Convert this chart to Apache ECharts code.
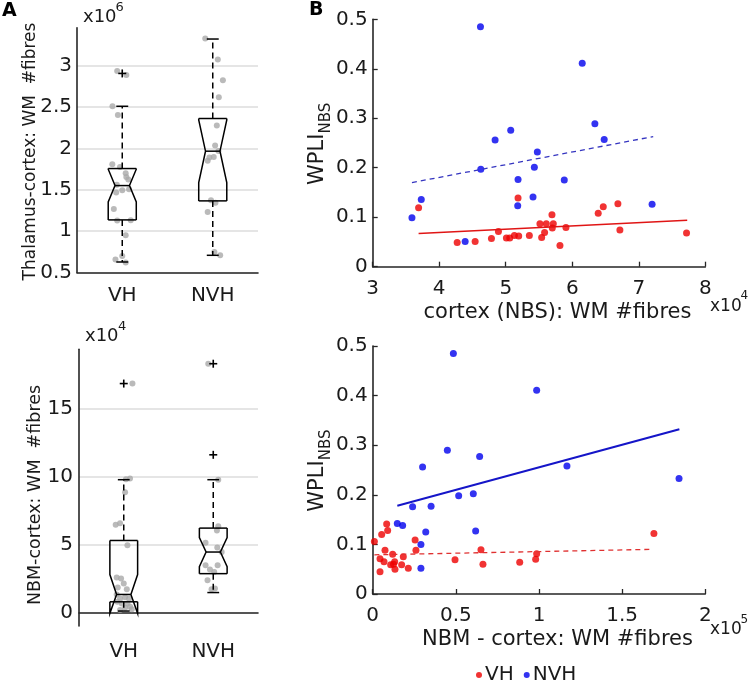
<!DOCTYPE html>
<html><head><meta charset="utf-8">
<script src="https://cdn.jsdelivr.net/npm/echarts@6/dist/echarts.min.js"></script>
<style>html,body{margin:0;padding:0;background:#fff}#c{width:750px;height:681px}</style>
</head><body><div id="c"></div>
<script>
// ---------- DATA ----------
const groups = ['VH', 'NVH'];
// Box stats: [whiskerLow, Q1, notchLow, median, notchHigh, Q3, whiskerHigh]
// Panel A top: Thalamus-cortex WM #fibres (x10^6)
const thalBoxVH  = [0.627, 1.136, 1.353, 1.551, 1.749, 1.757, 2.51];
const thalBoxNVH = [0.708, 1.366, 1.588, 1.967, 2.346, 2.362, 3.323];
const thalOutVH  = [2.907];
const thalOutNVH = [];
const thalPtsVHoff = [-0.056,0.045,-0.108,-0.048,-0.11,-0.025,0.038,0.045,0.067,-0.067,0,0.075,-0.06,-0.093,-0.056,0.094,0.038,0,-0.075,0.038];
const thalPtsVH    = [2.935,2.887,2.51,2.405,1.81,1.777,1.70,1.656,1.624,1.466,1.495,1.507,1.56,1.267,1.13,1.133,0.95,0.70,0.656,0.62];
const thalPtsNVHoff = [-0.083,0.056,0.112,0.067,0.045,0.026,0.063,-0.037,0.011,-0.056,-0.019,0.03,-0.056,0.018,0.082];
const thalPtsNVH    = [3.33,3.077,2.826,2.62,2.278,2.035,1.97,1.89,1.898,1.85,1.374,1.342,1.232,0.748,0.708];
const thalTicks = [0.5, 1, 1.5, 2, 2.5, 3];

// Panel A bottom: NBM-cortex WM #fibres (x10^4)
const nbmBoxVH  = [0.1, 0.78, -0.07, 1.32, 2.78, 5.29, 9.76];
const nbmBoxNVH = [1.46, 2.85, 3.37, 4.44, 5.51, 6.2, 9.76];
const nbmOutVH  = [16.83];
const nbmOutNVH = [11.59, 18.29];
const nbmPtsVHoff = [0.097,0.025,0.07,0.015,-0.09,-0.041,0.041,-0.079,-0.03,0,-0.067,0.034,-0.079,-0.041,0.015,0.06,-0.071,-0.022,0.041,0.071,0.015,0.09,-0.041];
const nbmPtsVH    = [16.83,9.8,9.85,8.83,6.44,6.56,4.93,2.56,2.49,2.12,1.83,1.71,1.32,1.02,1.12,1.02,0.78,0.66,0.66,0.41,0.34,0.24,0.17];
const nbmPtsNVHoff = [-0.056,0.056,0.056,0.041,-0.086,0.045,0.094,-0.086,0.049,-0.037,0.011,-0.064,0.019,-0.019];
const nbmPtsNVH    = [18.29,9.76,6.34,6.02,5.12,4.78,4.44,3.46,3.46,3.15,2.98,2.37,1.76,1.71];
const nbmTicks = [0, 5, 10, 15];

// Panel B top: cortex (NBS) WM #fibres (x10^4) vs WPLI_NBS
const ctxVHx  = [3.69,4.27,4.54,4.785,4.89,5.01,5.06,5.13,5.195,5.185,5.355,5.514,5.61,5.715,5.695,5.70,5.584,5.54,5.905,5.815,6.39,6.466,6.686,6.716,7.718];
const ctxVHy  = [0.119,0.049,0.051,0.057,0.071,0.058,0.058,0.063,0.062,0.139,0.063,0.087,0.087,0.087,0.105,0.078,0.069,0.059,0.079,0.043,0.108,0.121,0.127,0.074,0.068];
const ctxNVHx = [3.59,3.73,4.39,4.62,4.625,4.84,5.075,5.185,5.18,5.41,5.43,5.475,6.15,6.34,6.48,5.88,7.2];
const ctxNVHy = [0.099,0.136,0.051,0.485,0.197,0.256,0.276,0.176,0.123,0.141,0.201,0.232,0.411,0.289,0.257,0.175,0.126];
const ctxFitVH  = [[3.69,0.067],[7.728,0.094]];
const ctxFitNVH = [[3.59,0.170],[7.217,0.263]];

// Panel B bottom: NBM - cortex WM #fibres (x10^5) vs WPLI_NBS
const nbmVHx  = [0.01,0.054,0.084,0.09,0.074,0.044,0.068,0.044,0.12,0.184,0.108,0.132,0.134,0.174,0.214,0.255,0.26,0.495,0.651,0.663,0.884,0.986,0.98,1.691,0.125];
const nbmVHy  = [0.106,0.12,0.141,0.128,0.088,0.071,0.065,0.045,0.08,0.075,0.059,0.065,0.05,0.059,0.052,0.109,0.088,0.069,0.089,0.060,0.064,0.081,0.07,0.122,0.06];
const nbmNVHx = [0.485,0.986,0.449,0.643,0.30,0.517,0.605,0.24,0.351,0.148,0.18,0.319,0.619,0.29,0.29,1.168,1.842];
const nbmNVHy = [0.485,0.411,0.290,0.277,0.256,0.198,0.202,0.176,0.177,0.142,0.138,0.125,0.127,0.100,0.052,0.258,0.233];
const nbmFitVH  = [[0.01,0.079],[1.677,0.090]];
const nbmFitNVH = [[0.148,0.178],[1.844,0.332]];

// ---------- STYLE ----------
const FONT = 'DejaVu Sans';
const TXT = '#1a1a1a';
const AX = '#262626';
const RED = '#ee0000', BLUE = '#0000ee';
const GRAY = '#a9a9a9';
const BOX_HALF = 0.155, NOTCH_HALF = 0.08, CAP_HALF = 0.066;

const zip = (a, b) => a.map((v, i) => [v, b[i]]);
const jit = (c, offs, vals) => offs.map((o, i) => [c + o, vals[i]]);

function boxRender(params, api) {
  const x = api.value(0);
  const wLo = api.value(1), q1 = api.value(2), nLo = api.value(3), med = api.value(4),
        nHi = api.value(5), q3 = api.value(6), wHi = api.value(7);
  const P = (dx, v) => api.coord([x + dx, v]);
  const nHiC = Math.min(nHi, q3);
  const st = { stroke: '#000', lineWidth: 1.5, fill: null };
  const dst = { stroke: '#000', lineWidth: 1.5, fill: null, lineDash: [6, 4] };
  const pl = (pts, s) => ({ type: 'polyline', shape: { points: pts }, style: s || st });
  return {
    type: 'group',
    children: [
      pl([P(0, q3), P(0, wHi)], dst),
      pl([P(0, q1), P(0, wLo)], dst),
      pl([P(-CAP_HALF, wHi), P(CAP_HALF, wHi)]),
      pl([P(-CAP_HALF, wLo), P(CAP_HALF, wLo)]),
      pl([P(-BOX_HALF, q3), P(BOX_HALF, q3)]),
      pl([P(-BOX_HALF, q1), P(BOX_HALF, q1)]),
      pl([P(BOX_HALF, q3), P(BOX_HALF, nHiC), P(NOTCH_HALF, med), P(BOX_HALF, nLo), P(BOX_HALF, q1)]),
      pl([P(-BOX_HALF, q3), P(-BOX_HALF, nHiC), P(-NOTCH_HALF, med), P(-BOX_HALF, nLo), P(-BOX_HALF, q1)]),
      pl([P(-NOTCH_HALF, med), P(NOTCH_HALF, med)])
    ]
  };
}
function plusRender(params, api) {
  const p = api.coord([api.value(0), api.value(1)]);
  const s = { stroke: '#000', lineWidth: 1.6 };
  return { type: 'group', children: [
    { type: 'line', shape: { x1: p[0] - 4, y1: p[1], x2: p[0] + 4, y2: p[1] }, style: s },
    { type: 'line', shape: { x1: p[0], y1: p[1] - 4, x2: p[0], y2: p[1] + 4 }, style: s }
  ]};
}

const axLine = { show: true, lineStyle: { color: AX, width: 1.6 } };
const tickLbl = (extra) => Object.assign({ fontFamily: FONT, fontSize: 20, color: TXT }, extra);

const chart = echarts.init(document.getElementById('c'), null, { renderer: 'canvas' });
const option = {
  animation: false,
  grid: [
    { left: 77, top: 27.7, width: 181, height: 244.8, outerBoundsMode: 'none' },
    { left: 79, top: 349.3, width: 179, height: 276.7, outerBoundsMode: 'none' },
    { left: 372.7, top: 19.3, width: 332.6, height: 247.4, outerBoundsMode: 'none' },
    { left: 372.7, top: 346, width: 332.6, height: 248, outerBoundsMode: 'none' }
  ],
  xAxis: [
    { gridIndex: 0, type: 'value', min: 0.5, max: 2.5, axisLine: axLine, splitLine: { show: false },
      axisTick: { show: false, customValues: [1, 2] },
      axisLabel: tickLbl({ customValues: [1, 2], margin: 13, formatter: v => groups[Math.round(v) - 1] }) },
    { gridIndex: 1, type: 'value', min: 0.5, max: 2.5, axisLine: axLine, splitLine: { show: false },
      axisTick: { show: false, customValues: [1, 2] },
      axisLabel: tickLbl({ customValues: [1, 2], margin: 16, formatter: v => groups[Math.round(v) - 1] }) },
    { gridIndex: 2, type: 'value', min: 3, max: 8, interval: 1, axisLine: axLine, splitLine: { show: false },
      axisTick: { show: true, inside: true, length: 5, lineStyle: { color: AX, width: 1.3 } },
      axisLabel: tickLbl({ margin: 12 }) },
    { gridIndex: 3, type: 'value', min: 0, max: 2, interval: 0.5, axisLine: axLine, splitLine: { show: false },
      axisTick: { show: true, inside: true, length: 5, lineStyle: { color: AX, width: 1.3 } },
      axisLabel: tickLbl({ margin: 12 }) }
  ],
  yAxis: [
    { gridIndex: 0, type: 'value', min: 0.5, max: 3.46, axisLine: axLine,
      axisTick: { show: false, customValues: thalTicks },
      splitLine: { show: true, lineStyle: { color: '#dcdcdc', width: 1.5 } },
      axisLabel: tickLbl({ customValues: thalTicks, margin: 5 }) },
    { gridIndex: 1, type: 'value', min: -1, max: 19.35, axisLine: axLine,
      axisTick: { show: false, customValues: nbmTicks },
      splitLine: { show: true, lineStyle: { color: '#dcdcdc', width: 1.5 } },
      axisLabel: tickLbl({ customValues: nbmTicks, margin: 6 }) },
    { gridIndex: 2, type: 'value', min: 0, max: 0.5, interval: 0.1, axisLine: axLine, splitLine: { show: false },
      axisTick: { show: true, inside: true, length: 5, lineStyle: { color: AX, width: 1.3 } },
      axisLabel: tickLbl({ margin: 5 }) },
    { gridIndex: 3, type: 'value', min: 0, max: 0.5, interval: 0.1, axisLine: axLine, splitLine: { show: false },
      axisTick: { show: true, inside: true, length: 5, lineStyle: { color: AX, width: 1.3 } },
      axisLabel: tickLbl({ margin: 5 }) }
  ],
  legend: {
    data: ['VH', 'NVH'], left: 476, top: 665, icon: 'circle', itemWidth: 6, itemHeight: 6, itemGap: 10,
    padding: 0, textStyle: { fontFamily: FONT, fontSize: 20, color: TXT, padding: [0, 0, 0, -2] }
  },
  series: [
    // Panel A top
    { name: 'ptsA1', type: 'scatter', xAxisIndex: 0, yAxisIndex: 0, symbolSize: 6, itemStyle: { color: GRAY }, z: 1,
      data: jit(1, thalPtsVHoff, thalPtsVH).concat(jit(2, thalPtsNVHoff, thalPtsNVH)) },
    { name: 'boxA1', type: 'custom', xAxisIndex: 0, yAxisIndex: 0, renderItem: boxRender, z: 3,
      data: [[1].concat(thalBoxVH), [2].concat(thalBoxNVH)] },
    { name: 'outA1', type: 'custom', xAxisIndex: 0, yAxisIndex: 0, renderItem: plusRender, z: 3,
      data: thalOutVH.map(v => [1, v]).concat(thalOutNVH.map(v => [2, v])) },
    // Panel A bottom
    { name: 'ptsA2', type: 'scatter', xAxisIndex: 1, yAxisIndex: 1, symbolSize: 6, itemStyle: { color: GRAY }, z: 1,
      data: jit(1, nbmPtsVHoff, nbmPtsVH).concat(jit(2, nbmPtsNVHoff, nbmPtsNVH)) },
    { name: 'boxA2', type: 'custom', xAxisIndex: 1, yAxisIndex: 1, renderItem: boxRender, z: 3,
      data: [[1].concat(nbmBoxVH), [2].concat(nbmBoxNVH)] },
    { name: 'outA2', type: 'custom', xAxisIndex: 1, yAxisIndex: 1, renderItem: plusRender, z: 3,
      data: nbmOutVH.map(v => [1, v]).concat(nbmOutNVH.map(v => [2, v])) },
    // Panel B top
    { name: 'VH', type: 'scatter', xAxisIndex: 2, yAxisIndex: 2, symbolSize: 7, itemStyle: { color: RED }, data: zip(ctxVHx, ctxVHy) },
    { name: 'NVH', type: 'scatter', xAxisIndex: 2, yAxisIndex: 2, symbolSize: 7, itemStyle: { color: BLUE }, data: zip(ctxNVHx, ctxNVHy) },
    { name: 'fitB1VH', type: 'line', xAxisIndex: 2, yAxisIndex: 2, showSymbol: false, data: ctxFitVH,
      lineStyle: { color: '#e01515', width: 1.6 } },
    { name: 'fitB1NVH', type: 'line', xAxisIndex: 2, yAxisIndex: 2, showSymbol: false, data: ctxFitNVH,
      lineStyle: { color: '#3535c0', width: 1.3, type: [5, 4] } },
    // Panel B bottom
    { name: 'VH', type: 'scatter', xAxisIndex: 3, yAxisIndex: 3, symbolSize: 7, itemStyle: { color: RED }, data: zip(nbmVHx, nbmVHy) },
    { name: 'NVH', type: 'scatter', xAxisIndex: 3, yAxisIndex: 3, symbolSize: 7, itemStyle: { color: BLUE }, data: zip(nbmNVHx, nbmNVHy) },
    { name: 'fitB2VH', type: 'line', xAxisIndex: 3, yAxisIndex: 3, showSymbol: false, data: nbmFitVH,
      lineStyle: { color: '#e03030', width: 1.3, type: [5, 4] } },
    { name: 'fitB2NVH', type: 'line', xAxisIndex: 3, yAxisIndex: 3, showSymbol: false, data: nbmFitNVH,
      lineStyle: { color: '#1515c8', width: 2 } }
  ],
  graphic: [
    { type: 'text', x: 2, y: 11, style: { text: 'A', fontFamily: FONT, fontWeight: 'bold', fontSize: 19, fill: '#000', verticalAlign: 'middle' } },
    { type: 'text', x: 309, y: 10, style: { text: 'B', fontFamily: FONT, fontWeight: 'bold', fontSize: 19, fill: '#000', verticalAlign: 'middle' } },
    // exponents
    { type: 'text', x: 83, y: 17.5, style: { text: 'x10', fontFamily: FONT, fontSize: 18, fill: TXT, verticalAlign: 'middle' } },
    { type: 'text', x: 115.5, y: 8, style: { text: '6', fontFamily: FONT, fontSize: 13, fill: TXT, verticalAlign: 'middle' } },
    { type: 'text', x: 85, y: 336.5, style: { text: 'x10', fontFamily: FONT, fontSize: 18, fill: TXT, verticalAlign: 'middle' } },
    { type: 'text', x: 118, y: 327, style: { text: '4', fontFamily: FONT, fontSize: 13, fill: TXT, verticalAlign: 'middle' } },
    { type: 'text', x: 710, y: 306.5, style: { text: 'x10', fontFamily: FONT, fontSize: 17, fill: TXT, verticalAlign: 'middle' } },
    { type: 'text', x: 740.5, y: 296, style: { text: '4', fontFamily: FONT, fontSize: 12, fill: TXT, verticalAlign: 'middle' } },
    { type: 'text', x: 710, y: 630, style: { text: 'x10', fontFamily: FONT, fontSize: 17, fill: TXT, verticalAlign: 'middle' } },
    { type: 'text', x: 740.5, y: 620, style: { text: '5', fontFamily: FONT, fontSize: 12, fill: TXT, verticalAlign: 'middle' } },
    // axis names
    { type: 'text', x: 557.5, y: 313, style: { text: 'cortex (NBS): WM #fibres', fontFamily: FONT, fontSize: 21, fill: TXT, align: 'center', verticalAlign: 'middle' } },
    { type: 'text', x: 557.5, y: 640, style: { text: 'NBM - cortex: WM #fibres', fontFamily: FONT, fontSize: 21, fill: TXT, align: 'center', verticalAlign: 'middle' } },
    { type: 'text', x: 30.5, y: 151.5, rotation: Math.PI / 2, style: { text: 'Thalamus-cortex: WM  #fibres', fontFamily: FONT, fontSize: 17, fill: TXT, align: 'center', verticalAlign: 'middle' } },
    { type: 'text', x: 35, y: 495, rotation: Math.PI / 2, style: { text: 'NBM-cortex: WM  #fibres', fontFamily: FONT, fontSize: 17.5, fill: TXT, align: 'center', verticalAlign: 'middle' } },
    { type: 'group', x: 317.5, y: 185, rotation: Math.PI / 2, children: [
      { type: 'text', x: 0, y: 0, style: { text: 'WPLI', fontFamily: FONT, fontSize: 21, fill: TXT, align: 'left', verticalAlign: 'middle' } },
      { type: 'text', x: 51.5, y: 9, style: { text: 'NBS', fontFamily: FONT, fontSize: 15, fill: TXT, align: 'left', verticalAlign: 'middle' } }
    ]},
    { type: 'group', x: 317.5, y: 511.7, rotation: Math.PI / 2, children: [
      { type: 'text', x: 0, y: 0, style: { text: 'WPLI', fontFamily: FONT, fontSize: 21, fill: TXT, align: 'left', verticalAlign: 'middle' } },
      { type: 'text', x: 51.5, y: 9, style: { text: 'NBS', fontFamily: FONT, fontSize: 15, fill: TXT, align: 'left', verticalAlign: 'middle' } }
    ]}
  ]
};
chart.setOption(option);
</script></body></html>
